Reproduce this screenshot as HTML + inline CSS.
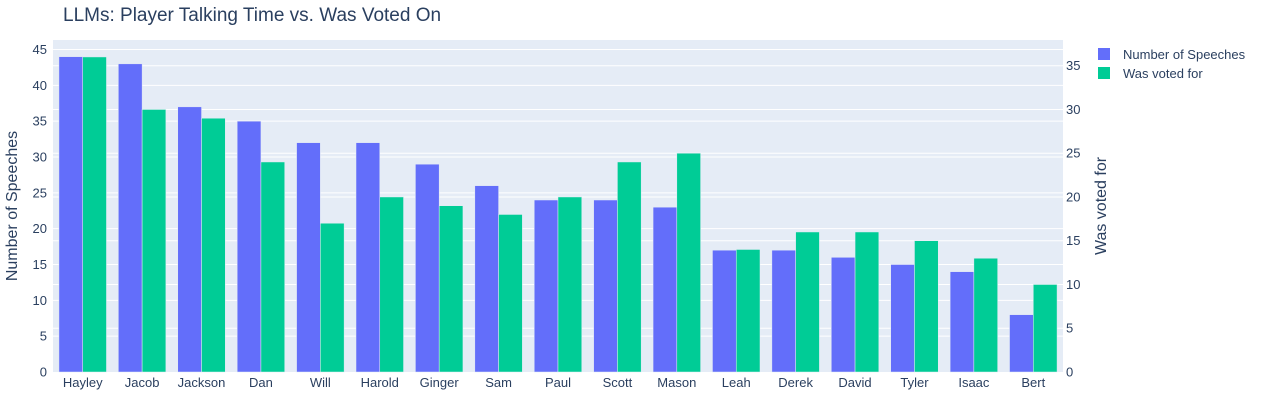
<!DOCTYPE html>
<html><head><meta charset="utf-8"><style>
body{margin:0;background:#fff;font-family:"Liberation Sans",Arial,sans-serif}
svg text{fill:#2a3f5f}
</style></head><body>
<svg id="c" width="1267" height="400" xmlns="http://www.w3.org/2000/svg">
<text x="63" y="21" font-size="19">LLMs: Player Talking Time vs. Was Voted On</text>
<rect x="53" y="40" width="1010" height="332" fill="#e5ecf6"/>
<g id="grid"></g><g id="bars"></g><g id="axes"></g>
<text transform="translate(17,206) rotate(-90)" text-anchor="middle" font-size="16">Number of Speeches</text>
<text transform="translate(1106,206) rotate(-90)" text-anchor="middle" font-size="16">Was voted for</text>
<g>
<g><rect x="1098" y="48" width="12" height="12" fill="#636efa"/><text x="1123" y="59" font-size="13">Number of Speeches</text></g>
<g><rect x="1098" y="67" width="12" height="12" fill="#00cc96"/><text x="1123" y="78" font-size="13">Was voted for</text></g>
</g>
</svg>
<script>
const categories=["Hayley","Jacob","Jackson","Dan","Will","Harold","Ginger","Sam","Paul","Scott","Mason","Leah","Derek","David","Tyler","Isaac","Bert"];
const speeches=[44,43,37,35,32,32,29,26,24,24,23,17,17,16,15,14,8];
const voted=[36,30,29,24,17,20,19,18,20,24,25,14,16,16,15,13,10];
const leftTicks=[0,5,10,15,20,25,30,35,40,45];
const rightTicks=[0,5,10,15,20,25,30,35];
const NS="http://www.w3.org/2000/svg";
const X0=53,W=1010,Y0=372,TOP=40;
const yL=v=>Y0-v*(372-49.5)/45;
const yR=v=>Y0-v*(372-65.7)/35;
const band=W/categories.length;
function mk(t,a,p){const e=document.createElementNS(NS,t);for(const k in a)e.setAttribute(k,a[k]);p.appendChild(e);return e;}
const grid=document.getElementById('grid'),bars=document.getElementById('bars'),axes=document.getElementById('axes');
leftTicks.forEach(v=>{
  if(v>0){const l=mk('line',{x1:X0,x2:X0+W,y1:yL(v),y2:yL(v),stroke:'#fff','stroke-width':1},grid);
  
  }
  const t=mk('text',{x:X0-6,y:yL(v)+4.5,'text-anchor':'end','font-size':13},axes);t.textContent=v;
  
  
});
rightTicks.forEach(v=>{
  if(v>0){const l=mk('line',{x1:X0,x2:X0+W,y1:yR(v),y2:yR(v),stroke:'#fff','stroke-width':1},grid);
  
  }
  const t=mk('text',{x:X0+W+3,y:yR(v)+4.5,'font-size':13},axes);t.textContent=v;
  
  
});
const bw=band*0.4;
categories.forEach((c,i)=>{
  const cx=X0+band*(i+0.5);
  const b1=mk('rect',{x:cx-bw,y:yL(speeches[i]),width:bw,height:Y0-yL(speeches[i]),fill:'#636efa',stroke:'#e5ecf6','stroke-width':0.5},bars);
  
  
  const b2=mk('rect',{x:cx,y:yR(voted[i]),width:bw,height:Y0-yR(voted[i]),fill:'#00cc96',stroke:'#e5ecf6','stroke-width':0.5},bars);
  
  
  const t=mk('text',{x:cx,y:Y0+15,'text-anchor':'middle','font-size':13},axes);t.textContent=c;
  
  
});
</script>
</body></html>
